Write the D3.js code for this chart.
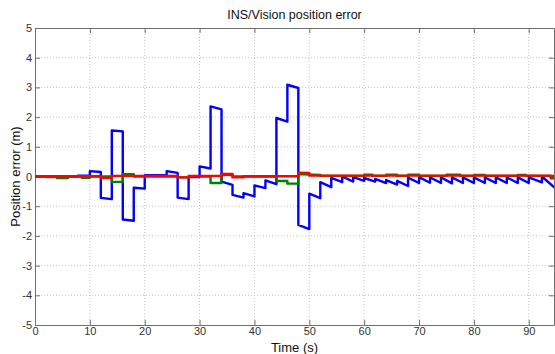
<html>
  <head>
    <meta charset="utf-8" />
    <script src="https://cdn.jsdelivr.net/npm/d3@7"></script>
    <style>
      body { margin: 0; background: #fff; }
      text { font-family: "Liberation Sans", Arial, sans-serif; }
    </style>
  </head>
  <body>
    <div id="container"></div>
    <script>
      // time (s) and error (m) vertices for each series
      const blueT = [0, 7.8, 7.8, 10, 10, 12, 12, 14, 14, 16, 16, 18, 18, 20, 20, 24, 24, 26, 26, 28, 28, 30, 30, 32, 32, 34, 34, 36, 36, 38, 38, 40, 40, 42, 42, 44, 44, 46, 46, 48, 48, 50, 50, 52,
        52, 54, 54, 56, 56, 58, 58, 60, 60, 62, 62, 64, 64, 66, 66, 68, 68, 70, 70, 72, 72, 74, 74, 76, 76, 78, 78, 80, 80, 82, 82, 84, 84, 86, 86, 88, 88, 90, 90, 92.4, 92.4, 95];
      const blueV = [0, 0, 0.03, 0.03, 0.18, 0.15, -0.72, -0.76, 1.55, 1.52, -1.45, -1.49, -0.38, -0.41, 0.04, 0.05, 0.18, 0.12, -0.71, -0.76, -0.02, -0.02, 0.34, 0.27, 2.36, 2.26, -0.17, -0.28, -0.62, -0.71, -0.56, -0.67, -0.3, -0.39, -0.13, -0.26, 1.97, 1.85, 3.09, 2.98, -1.63, -1.77, -0.58, -0.73,
        -0.19, -0.36, -0.05, -0.19, 0, -0.17, -0.02, -0.15, -0.05, -0.17, -0.08, -0.22, -0.12, -0.27, -0.15, -0.32, -0.04, -0.22, -0.02, -0.21, -0.03, -0.22, -0.03, -0.23, -0.03, -0.22, -0.03, -0.22, -0.03, -0.22, -0.03, -0.22, -0.03, -0.22, -0.03, -0.22, -0.03, -0.22, -0.03, -0.2, 0, -0.42];

      const greenT = [0, 2, 2, 4, 4, 6, 6, 8.5, 8.5, 10, 10, 14, 14, 16, 16, 18, 18, 26, 26, 28, 28, 32, 32, 34, 34, 36, 36, 44, 44, 46, 46, 48, 48, 52, 52,
        60, 60, 61.5, 61.5, 64, 64, 66, 66, 68, 68, 70, 70, 75, 75, 77.5, 77.5, 80, 80, 82, 82, 88, 88, 89.5, 89.5, 95];
      const greenV = [0, 0, -0.02, -0.02, -0.05, -0.05, 0, 0, -0.04, -0.04, 0, 0, -0.18, -0.18, 0.08, 0.08, 0, 0, -0.03, -0.03, 0, 0, -0.22, -0.22, 0.06, 0.06, 0, 0, -0.15, -0.15, -0.24, -0.24, 0.08, 0.05, 0.02,
        0.02, 0.06, 0.06, 0.02, 0.02, 0.06, 0.06, 0.02, 0.02, 0.06, 0.06, 0.02, 0.02, 0.06, 0.06, 0.02, 0.02, 0.05, 0.05, 0.02, 0.02, 0.05, 0.05, 0.02, 0.02];

      const redT = [0, 12, 12, 14, 14, 26, 26, 28, 28, 34, 34, 36, 36, 38, 38, 48, 48, 50, 50, 94, 94, 95];
      const redV = [0.01, 0.01, -0.04, -0.04, 0.02, 0.02, -0.03, -0.03, 0.02, 0.02, 0.09, 0.09, -0.03, -0.03, 0.01, 0.01, 0.13, 0.12, 0.03, 0.03, -0.06, -0.06];

      const xTicks = [0, 10, 20, 30, 40, 50, 60, 70, 80, 90];
      const yTicks = [-5, -4, -3, -2, -1, 0, 1, 2, 3, 4, 5];

      const svgW = 555, svgH = 354;
      const pL = 35, pR = 554, pT = 28, pB = 325;

      const svg = d3.select("#container").append("svg")
        .attr("width", svgW).attr("height", svgH);

      const x = d3.scaleLinear().domain([0, 94.6]).range([pL, pR]);
      const y = d3.scaleLinear().domain([-5, 5]).range([pB, pT]);

      // grid
      svg.append("g").selectAll("line").data(xTicks.filter(d => d > 0)).join("line")
        .attr("x1", d => x(d)).attr("x2", d => x(d)).attr("y1", pT).attr("y2", pB)
        .attr("stroke", "#c4c4c4").attr("stroke-dasharray", "1,2");
      svg.append("g").selectAll("line").data(yTicks.filter(d => d > -5 && d < 5)).join("line")
        .attr("x1", pL).attr("x2", pR).attr("y1", d => y(d)).attr("y2", d => y(d))
        .attr("stroke", "#c4c4c4").attr("stroke-dasharray", "1,2");

      // axes (matlab style: ticks inside on all four sides)
      const axCol = "#6f6f6f";
      const fmt = d => String(d);
      const xb = svg.append("g").attr("transform", `translate(0,${pB})`)
        .call(d3.axisBottom(x).tickValues(xTicks).tickFormat(fmt).tickSizeInner(-5).tickSizeOuter(0).tickPadding(2));
      const xt = svg.append("g").attr("transform", `translate(0,${pT})`)
        .call(d3.axisTop(x).tickValues(xTicks).tickSizeInner(-5).tickSizeOuter(0).tickFormat(""));
      const yl = svg.append("g").attr("transform", `translate(${pL},0)`)
        .call(d3.axisLeft(y).tickValues(yTicks).tickFormat(fmt).tickSizeInner(-5).tickSizeOuter(0).tickPadding(3));
      const yr = svg.append("g").attr("transform", `translate(${pR},0)`)
        .call(d3.axisRight(y).tickValues(yTicks).tickSizeInner(-5).tickSizeOuter(0).tickFormat(""));
      [xb, xt, yl, yr].forEach(g => {
        g.select(".domain").attr("stroke", axCol);
        g.selectAll(".tick line").attr("stroke", axCol);
        g.selectAll("text").attr("fill", "#333").style("font-size", "11px")
          .style("font-family", "'Liberation Sans', Arial, sans-serif");
      });

      // lines
      svg.append("clipPath").attr("id", "clip").append("rect")
        .attr("x", pL).attr("y", pT).attr("width", pR - pL).attr("height", pB - pT);
      const line = d3.line().x(d => x(d[0])).y(d => y(d[1]));
      const series = [
        [blueT, blueV, "#0000ff"],
        [greenT, greenV, "#008000"],
        [redT, redV, "#ff0000"]
      ];
      series.forEach(([ts, vs, col]) => {
        svg.append("path")
          .datum(ts.map((t, i) => [t, vs[i]]))
          .attr("clip-path", "url(#clip)")
          .attr("fill", "none").attr("stroke", col).attr("stroke-width", 2.4)
          .attr("stroke-linejoin", "round")
          .attr("d", line);
      });

      // labels
      svg.append("text").attr("x", (pL + pR) / 2).attr("y", 19)
        .attr("text-anchor", "middle").style("font-size", "12.5px").attr("fill", "#111")
        .text("INS/Vision position error");
      svg.append("text").attr("x", (pL + pR) / 2).attr("y", 352)
        .attr("text-anchor", "middle").style("font-size", "13px").attr("fill", "#111")
        .text("Time (s)");
      svg.append("text").attr("transform", `translate(20,${(pT + pB) / 2}) rotate(-90)`)
        .attr("text-anchor", "middle").style("font-size", "13px").attr("fill", "#111")
        .text("Position error (m)");
    </script>
  </body>
</html>
